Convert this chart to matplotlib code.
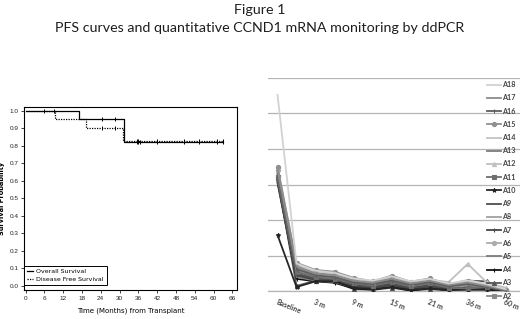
import matplotlib
matplotlib.use("Agg")
import matplotlib.pyplot as plt
from matplotlib.lines import Line2D

# ---------------- data: Kaplan-Meier (left) ----------------
os_times = [0, 17, 31.4, 63]
os_surv = [1.0, 0.95, 0.818, 0.818]
dfs_times = [0, 9.5, 19.4, 31.2, 63]
dfs_surv = [1.0, 0.95, 0.90, 0.826, 0.826]
os_censor = [6, 24.5, 28.5, 35.5, 36, 36.5, 42, 50.5, 55.5, 61, 63]
dfs_censor = [9, 24.5, 28.5, 35.5, 36, 42, 50.5, 55.5, 61, 63]
km_xticks = [0, 6, 12, 18, 24, 30, 36, 42, 48, 54, 60, 66]
km_yticks = [0.0, 0.1, 0.2, 0.3, 0.4, 0.5, 0.6, 0.7, 0.8, 0.9, 1.0]

# ---------------- data: ddPCR monitoring (right) ----------------
categories = ['Baseline', '1 m', '3 m', '6 m', '9 m', '12 m', '15 m',
              '18 m', '21 m', '24 m', '36 m', '48 m', '60 m']
shown_labels = ['Baseline', '', '3 m', '', '9 m', '', '15 m', '',
                '21 m', '', '36 m', '', '60 m']
A18 = [5.52, 0.78, 0.58, 0.52, 0.36, 0.30, 0.42, 0.28, 0.35, 0.22, 0.30, 0.20, 0.06]
A17 = [3.40, 0.70, 0.50, 0.45, 0.30, 0.24, 0.36, 0.22, 0.30, 0.18, 0.25, 0.15, 0.04]
A16 = [3.30, 0.62, 0.45, 0.40, 0.25, 0.20, 0.30, 0.18, 0.26, 0.14, 0.20, 0.12, 0.03]
A15 = [3.50, 0.80, 0.60, 0.55, 0.38, 0.28, 0.44, 0.27, 0.36, 0.20, 0.28, 0.18, 0.05]
A14 = [3.45, 0.75, 0.56, 0.50, 0.34, 0.26, 0.40, 0.25, 0.33, 0.20, 0.32, 0.20, 0.05]
A13 = [3.35, 0.68, 0.50, 0.46, 0.30, 0.22, 0.35, 0.20, 0.28, 0.16, 0.22, 0.14, 0.04]
A12 = [3.48, 0.72, 0.55, 0.50, 0.32, 0.25, 0.38, 0.24, 0.32, 0.26, 0.77, 0.25, 0.10]
A11 = [3.20, 0.55, 0.40, 0.35, 0.22, 0.16, 0.26, 0.14, 0.22, 0.10, 0.08, 0.12, 0.02]
A10 = [1.58, 0.12, 0.28, 0.28, 0.10, 0.06, 0.12, 0.04, 0.08, 0.04, 0.05, 0.06, 0.02]
A9 = [3.15, 0.50, 0.36, 0.32, 0.18, 0.14, 0.22, 0.10, 0.18, 0.08, 0.12, 0.10, 0.02]
A8 = [3.25, 0.58, 0.42, 0.38, 0.24, 0.18, 0.28, 0.16, 0.24, 0.12, 0.18, 0.14, 0.03]
A7 = [3.10, 0.45, 0.32, 0.28, 0.14, 0.10, 0.18, 0.06, 0.14, 0.06, 0.10, 0.08, 0.01]
A6 = [3.42, 0.66, 0.48, 0.44, 0.28, 0.22, 0.34, 0.20, 0.29, 0.15, 0.20, 0.15, 0.04]
A5 = [3.12, 0.40, 0.30, 0.26, 0.12, 0.08, 0.16, 0.05, 0.12, 0.05, 0.25, 0.10, 0.01]
A4 = [3.05, 0.35, 0.28, 0.24, 0.08, 0.05, 0.12, 0.02, 0.09, 0.03, 0.06, 0.05, 0.00]
A3 = [3.18, 0.15, 0.30, 0.28, 0.06, 0.04, 0.10, 0.02, 0.06, 0.02, 0.30, 0.28, 0.00]
A2 = [3.22, 0.48, 0.34, 0.30, 0.16, 0.12, 0.20, 0.08, 0.16, 0.06, 0.04, 0.02, 0.00]

series_names = ['A2', 'A3', 'A4', 'A5', 'A6', 'A7', 'A8', 'A9', 'A10',
                'A11', 'A12', 'A13', 'A14', 'A15', 'A16', 'A17', 'A18']
series_values = [A2, A3, A4, A5, A6, A7, A8, A9, A10,
                 A11, A12, A13, A14, A15, A16, A17, A18]

styles = {
    'A18': dict(color='#d2d2d2', marker=None),
    'A17': dict(color='#8c8c8c', marker=None),
    'A16': dict(color='#5e5e5e', marker='|'),
    'A15': dict(color='#909090', marker='o'),
    'A14': dict(color='#c4c4c4', marker=None),
    'A13': dict(color='#7c7c7c', marker=None),
    'A12': dict(color='#c0c0c0', marker='^'),
    'A11': dict(color='#6e6e6e', marker='s'),
    'A10': dict(color='#262626', marker='*'),
    'A9': dict(color='#4e4e4e', marker=None),
    'A8': dict(color='#a0a0a0', marker=None),
    'A7': dict(color='#454545', marker='|'),
    'A6': dict(color='#acacac', marker='o'),
    'A5': dict(color='#7e7e7e', marker=None),
    'A4': dict(color='#111111', marker='|'),
    'A3': dict(color='#585858', marker='^'),
    'A2': dict(color='#8a8a8a', marker='s'),
}

W, H = 520, 319
fig = plt.figure(figsize=(W / 100, H / 100), dpi=100)
fig.patch.set_facecolor('white')

def fx(px):
    return px / W

def fy(py):
    return 1 - py / H

# ---------------- titles ----------------
fig.text(0.5, fy(10), 'Figure 1', ha='center', va='center',
         fontsize=10.3, family='Lato', color='#1e1e1e')
fig.text(0.5, fy(28.5), 'PFS curves and quantitative CCND1 mRNA monitoring by ddPCR',
         ha='center', va='center', fontsize=10.3, family='Lato', color='#1e1e1e')

# ---------------- left: KM ----------------
axL = fig.add_axes([fx(24), fy(290), fx(237 - 24), (290 - 107) / H])
axL.step(os_times, os_surv, where='post', color='black', lw=0.9)
axL.step(dfs_times, dfs_surv, where='post', color='black', lw=0.9, ls=(0, (1, 1)))

def surv_at(t, times, surv):
    v = surv[0]
    for tt, s in zip(times, surv):
        if t >= tt:
            v = s
    return v

axL.plot(os_censor, [surv_at(t, os_times, os_surv) for t in os_censor],
         ls='none', marker='|', ms=3, mew=0.7, color='black')
axL.plot(dfs_censor, [surv_at(t, dfs_times, dfs_surv) for t in dfs_censor],
         ls='none', marker='|', ms=3, mew=0.7, color='black')

axL.set_xlim(-0.5, 67.5)
axL.set_ylim(-0.023, 1.02)
axL.set_xticks(km_xticks)
axL.set_yticks(km_yticks)
axL.set_yticklabels([f'{v:.1f}' for v in km_yticks])
axL.tick_params(labelsize=4.6, length=2, width=0.6, pad=2, colors='#222222')
for sp in axL.spines.values():
    sp.set_linewidth(0.8)
axL.set_ylabel('Survival Probability', fontsize=4.8, fontweight='bold', labelpad=3)
axL.set_xlabel('Time (Months) from Transplant', fontsize=5, labelpad=5)
for lbl in axL.get_xticklabels() + axL.get_yticklabels():
    lbl.set_family('Liberation Sans')

km_handles = [Line2D([], [], color='black', lw=0.9),
              Line2D([], [], color='black', lw=0.9, ls=(0, (1, 1)))]
legL = axL.legend(km_handles, ['Overall Survival', 'Disease Free Survival'],
                  loc='lower left', bbox_to_anchor=(0.0, 0.025), fontsize=4.5,
                  handlelength=1.0, handletextpad=0.5, borderpad=0.5,
                  labelspacing=0.4, fancybox=False, framealpha=1,
                  edgecolor='black', borderaxespad=0)
legL.get_frame().set_linewidth(0.7)

# ---------------- right: ddPCR lines ----------------
axR = fig.add_axes([fx(268), fy(291.3), fx(520 - 268), (291.3 - 77.7) / H])
x = list(range(len(categories)))
handles = {}
for name, vals in zip(series_names, series_values):
    st = styles[name]
    h, = axR.plot(x, vals, color=st['color'], lw=1.3, marker=st['marker'],
                  ms=3, mew=0.8, mfc=st['color'], mec=st['color'], zorder=3)
    handles[name] = h

axR.set_xlim(-0.5, 12.75)
axR.set_ylim(0, 6)
axR.set_yticks([0, 1, 2, 3, 4, 5, 6])
axR.yaxis.grid(True, color='#b4b4b4', lw=0.9)
axR.set_axisbelow(True)
axR.tick_params(axis='y', left=False, labelleft=False)
for s in ['left', 'right', 'top']:
    axR.spines[s].set_visible(False)
axR.spines['bottom'].set_color('#b4b4b4')
axR.spines['bottom'].set_linewidth(0.9)
axR.set_xticks(x)
axR.set_xticklabels(shown_labels, rotation=-22, ha='left', va='top',
                    rotation_mode='anchor', fontsize=5.0, fontweight='bold',
                    family='Lato', color='#444444')
axR.tick_params(axis='x', length=0, pad=5)

leg_order = list(reversed(series_names))
fig.legend([handles[n] for n in leg_order], leg_order,
           loc='upper left', bbox_to_anchor=(fx(487), fy(81.2)),
           frameon=False, prop={'family': 'Lato', 'weight': 'bold', 'size': 5.2},
           handlelength=2.0, handletextpad=0.15, labelspacing=0.86,
           borderpad=0, borderaxespad=0, labelcolor='#444444')

fig.savefig('out.png', dpi=100, facecolor='white')
